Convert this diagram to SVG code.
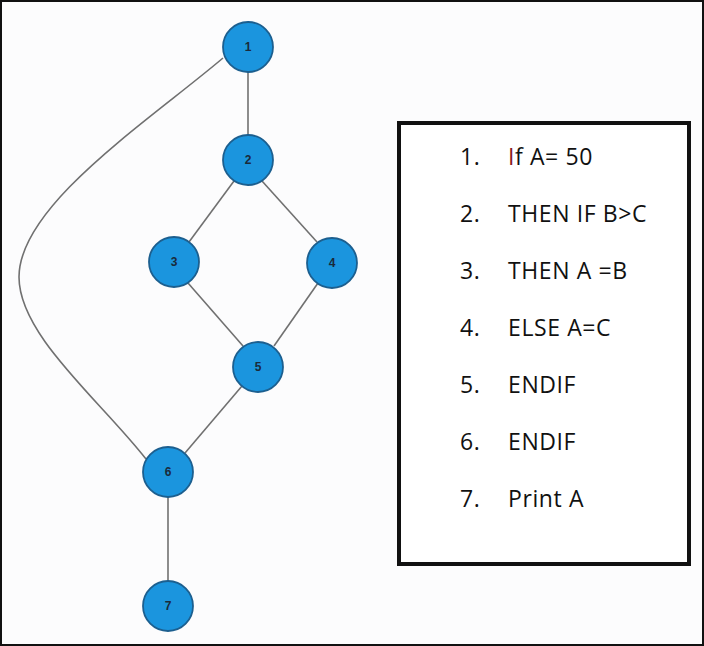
<svg xmlns="http://www.w3.org/2000/svg" width="704" height="646" viewBox="0 0 704 646">
<style>
.edge{fill:none;stroke:#707070;stroke-width:1.6}
.node circle{fill:#1b95de;stroke:#1c5f8f;stroke-width:1.8}
.node text{font-family:"Liberation Sans",Arial,sans-serif;font-size:12px;font-weight:bold;fill:#1a2a3a;text-anchor:middle}
.code{font-family:"Open Sans","Liberation Sans",sans-serif;font-size:23px;letter-spacing:0.6px;fill:#111}
</style>
<rect x="1" y="1" width="702" height="644" fill="#fcfcfd" stroke="#111" stroke-width="2"/>
<g id="connectors">
<path class="edge" d="M248,72 L248,136"/>
<path class="edge" d="M234,181 L189,242"/>
<path class="edge" d="M262,181 L317,242"/>
<path class="edge" d="M188,283 L243,346"/>
<path class="edge" d="M318,283 L274,346"/>
<path class="edge" d="M242,386 L185,453"/>
<path class="edge" d="M168,497 L168,581"/>
<path class="edge" d="M223,58 C150,120 19,205 19,277 C19,335 100,400 146,459"/>
</g>
<g id="node1" class="node"><circle cx="248" cy="47" r="25"/><text x="248" y="51">1</text></g>
<g id="node2" class="node"><circle cx="248" cy="160" r="25"/><text x="248" y="164">2</text></g>
<g id="node3" class="node"><circle cx="174" cy="262" r="25"/><text x="174" y="266">3</text></g>
<g id="node4" class="node"><circle cx="332" cy="263" r="25"/><text x="332" y="267">4</text></g>
<g id="node5" class="node"><circle cx="258" cy="367" r="25"/><text x="258" y="371">5</text></g>
<g id="node6" class="node"><circle cx="168" cy="472" r="25"/><text x="168" y="476">6</text></g>
<g id="node7" class="node"><circle cx="168" cy="606" r="25"/><text x="168" y="610">7</text></g>
<g id="codebox">
<rect x="399" y="123" width="290" height="441" fill="#fff" stroke="#111" stroke-width="4"/>
<text class="code" x="460" y="165">1.</text><text class="code" x="508" y="165"><tspan fill="#8a1c1c">I</tspan>f A= 50</text>
<text class="code" x="460" y="222">2.</text><text class="code" x="508" y="222">THEN IF B&gt;C</text>
<text class="code" x="460" y="279">3.</text><text class="code" x="508" y="279">THEN A =B</text>
<text class="code" x="460" y="336">4.</text><text class="code" x="508" y="336">ELSE A=C</text>
<text class="code" x="460" y="393">5.</text><text class="code" x="508" y="393">ENDIF</text>
<text class="code" x="460" y="450">6.</text><text class="code" x="508" y="450">ENDIF</text>
<text class="code" x="460" y="507">7.</text><text class="code" x="508" y="507">Print A</text>
</g>
</svg>
